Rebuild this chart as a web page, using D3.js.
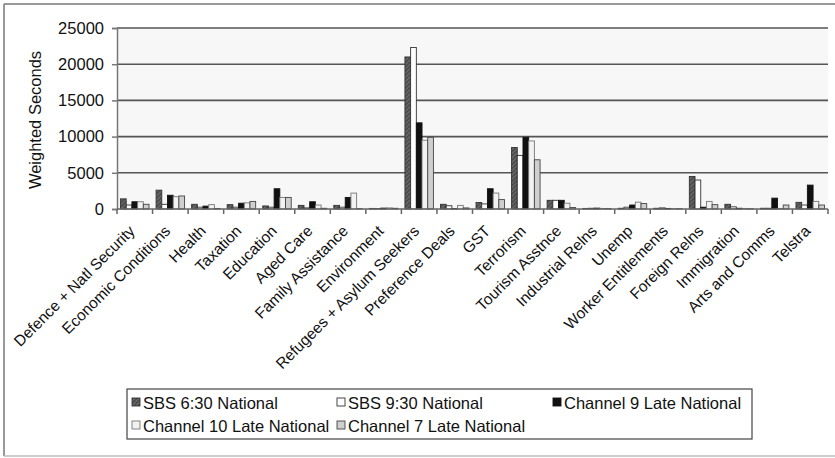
<!DOCTYPE html>
<html>
<head>
<meta charset="utf-8">
<script src="https://cdn.jsdelivr.net/npm/d3@7/dist/d3.min.js"></script>
<style>
  html, body { margin: 0; padding: 0; background: #fff; }
  svg { display: block; font-family: "Liberation Sans", Arial, sans-serif; }
</style>
</head>
<body>
<svg id="chart" width="835" height="458"></svg>
<script>
// Issue coverage on evening news bulletins, weighted seconds per topic
const categories = [
  "Defence + Natl Security", "Economic Conditions", "Health", "Taxation",
  "Education", "Aged Care", "Family Assistance", "Environment",
  "Refugees + Asylum Seekers", "Preference Deals", "GST", "Terrorism",
  "Tourism Asstnce", "Industrial Relns", "Unemp", "Worker Entitlements",
  "Foreign Relns", "Immigration", "Arts and Comms", "Telstra"
];
const seriesNames = [
  "SBS 6:30 National", "SBS 9:30 National", "Channel 9 Late National",
  "Channel 10 Late National", "Channel 7 Late National"
];
const sbs630 = [1400, 2600, 650, 600, 420, 500, 500, 80, 21000, 650, 900, 8500, 1200, 80, 100, 100, 4500, 650, 100, 920];
const sbs930 = [550, 650, 250, 250, 250, 150, 250, 60, 22300, 450, 700, 7400, 1200, 100, 250, 150, 4000, 300, 100, 550];
const ch9 = [1000, 1900, 400, 800, 2800, 1000, 1600, 120, 11900, 60, 2800, 9900, 1200, 120, 550, 80, 250, 100, 1500, 3300];
const ch10 = [1000, 1700, 600, 850, 1600, 550, 2200, 150, 9500, 500, 2200, 9400, 800, 80, 950, 50, 1050, 80, 80, 1050];
const ch7 = [650, 1800, 80, 1050, 1600, 100, 50, 100, 9900, 150, 1300, 6800, 200, 60, 750, 50, 600, 40, 550, 550];
const yTicks = [0, 5000, 10000, 15000, 20000, 25000];
const yTitle = "Weighted Seconds";

const seriesValues = [sbs630, sbs930, ch9, ch10, ch7];
const seriesFill = ["url(#hatch)", "#ffffff", "#111111", "#f2f2f2", "#cfcfcf"];
const seriesStroke = ["#333", "#333", "#111", "#777", "#444"];

const svg = d3.select("#chart");
const plot = { left: 117, right: 828, top: 28, bottom: 209 };

// hatched fill for the first series
const defs = svg.append("defs");
const pat = defs.append("pattern")
  .attr("id", "hatch").attr("patternUnits", "userSpaceOnUse")
  .attr("width", 3).attr("height", 3)
  .attr("patternTransform", "rotate(45)");
pat.append("rect").attr("width", 3).attr("height", 3).attr("fill", "#4c4c4c");
pat.append("line").attr("x1", 0).attr("y1", 0).attr("x2", 0).attr("y2", 3)
  .attr("stroke", "#8a8a8a").attr("stroke-width", 1.2);

// outer frame
svg.append("line").attr("x1", 4).attr("y1", 4).attr("x2", 835).attr("y2", 4)
  .attr("stroke", "#777").attr("stroke-width", 1.5);
svg.append("line").attr("x1", 4).attr("y1", 4).attr("x2", 4).attr("y2", 456)
  .attr("stroke", "#777").attr("stroke-width", 1.5);
svg.append("line").attr("x1", 4).attr("y1", 456).attr("x2", 835).attr("y2", 456)
  .attr("stroke", "#bbb").attr("stroke-width", 1.5);

const x = d3.scaleBand().domain(categories).range([plot.left, plot.right]).padding(0);
const xs = d3.scaleBand().domain(seriesNames).range([0, x.bandwidth()])
  .paddingInner(0).paddingOuter(0.62);
const y = d3.scaleLinear().domain([0, 25000]).range([plot.bottom, plot.top]);

// plot background
svg.append("rect")
  .attr("x", plot.left).attr("y", plot.top)
  .attr("width", plot.right - plot.left).attr("height", plot.bottom - plot.top)
  .attr("fill", "#f7f7f7");

// horizontal gridlines
svg.append("g").selectAll("line")
  .data(yTicks.filter(d => d > 0))
  .join("line")
  .attr("x1", plot.left).attr("x2", plot.right)
  .attr("y1", d => y(d)).attr("y2", d => y(d))
  .attr("stroke", "#555").attr("stroke-width", 1.6);

// bars
const groups = svg.append("g").selectAll("g")
  .data(categories)
  .join("g")
  .attr("transform", d => `translate(${x(d)},0)`);

groups.selectAll("rect")
  .data((c, i) => seriesNames.map((s, k) => ({ s, k, v: seriesValues[k][i] })))
  .join("rect")
  .attr("x", d => xs(d.s))
  .attr("width", xs.bandwidth())
  .attr("y", d => y(d.v))
  .attr("height", d => y(0) - y(d.v))
  .attr("fill", d => seriesFill[d.k])
  .attr("stroke", d => seriesStroke[d.k])
  .attr("stroke-width", 0.9);

// y axis
const yAxis = svg.append("g")
  .attr("transform", `translate(${plot.left},0)`)
  .call(d3.axisLeft(y).tickValues(yTicks).tickFormat(d3.format("d")).tickSize(5).tickPadding(8));
yAxis.select(".domain").attr("stroke", "#777").attr("stroke-width", 1.5);
yAxis.selectAll(".tick line").attr("stroke", "#777").attr("stroke-width", 1.5);
yAxis.selectAll(".tick text").attr("font-size", 16.5).attr("fill", "#111")
  .attr("font-family", "Liberation Sans, Arial, sans-serif");

// x axis line and tick marks at category boundaries
const boundaries = categories.map(c => x(c)).concat([plot.right]);
svg.append("line")
  .attr("x1", plot.left).attr("x2", plot.right)
  .attr("y1", y(0)).attr("y2", y(0))
  .attr("stroke", "#666").attr("stroke-width", 1.5);
svg.append("g").selectAll("line")
  .data(boundaries)
  .join("line")
  .attr("x1", d => d).attr("x2", d => d)
  .attr("y1", y(0)).attr("y2", y(0) + 5)
  .attr("stroke", "#666").attr("stroke-width", 1.5);

// rotated category labels
svg.append("g").selectAll("text")
  .data(categories)
  .join("text")
  .attr("transform", d => `translate(${x(d) + x.bandwidth() / 2 + 1},232) rotate(-45)`)
  .attr("text-anchor", "end")
  .attr("font-size", 15.5)
  .attr("fill", "#111")
  .text(d => d);

// y axis title
svg.append("text")
  .attr("transform", "translate(41,120) rotate(-90)")
  .attr("text-anchor", "middle")
  .attr("font-size", 16.5)
  .attr("fill", "#111")
  .text(yTitle);

// legend
const legend = svg.append("g");
legend.append("rect")
  .attr("x", 127).attr("y", 389).attr("width", 625).attr("height", 50)
  .attr("fill", "#fff").attr("stroke", "#444").attr("stroke-width", 1.2);
const legendPos = [
  [132, 409], [337, 409], [553, 409],
  [132, 432], [337, 432]
];
const items = legend.selectAll("g.item")
  .data(seriesNames)
  .join("g").attr("class", "item")
  .attr("transform", (d, i) => `translate(${legendPos[i][0]},${legendPos[i][1]})`);
items.append("rect")
  .attr("x", 0).attr("y", -11).attr("width", 8).attr("height", 8)
  .attr("fill", (d, i) => seriesFill[i])
  .attr("stroke", (d, i) => seriesStroke[i]).attr("stroke-width", 0.9);
items.append("text")
  .attr("x", 11).attr("y", 0)
  .attr("font-size", 16.5).attr("fill", "#111")
  .text(d => d);
</script>
</body>
</html>
